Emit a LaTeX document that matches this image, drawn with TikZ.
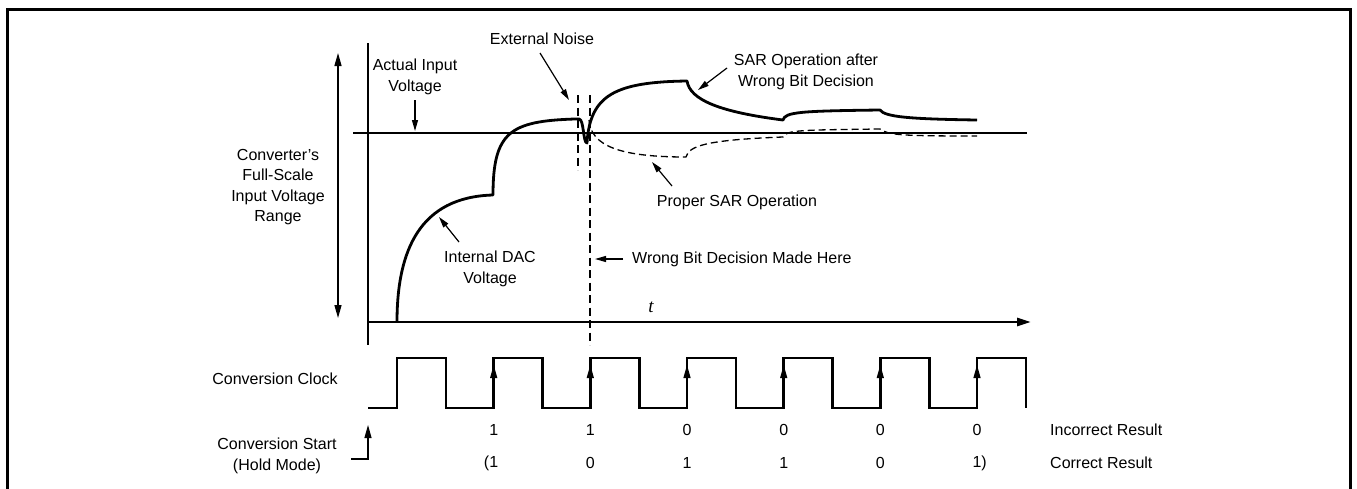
\documentclass[tikz,border=0pt]{standalone}
\usepackage{fontspec}
\setmainfont{Liberation Sans}
\newfontfamily\tfont{Liberation Serif}
\usetikzlibrary{arrows.meta}
\begin{document}
\begin{tikzpicture}[x=1pt,y=-1pt,
  lbl/.style={font=\fontsize{16}{20.5}\selectfont, inner sep=0pt, align=center},
  fine/.style={line width=1.3pt},
  heavy/.style={line width=2.8pt},
  framestyle/.style={line width=3pt},
  ptr/.style={line width=1.2pt, -{Triangle[length=11pt,width=6pt]}},
  edgeptr/.style={line width=1.2pt, -{Triangle[length=13pt,width=7pt]}},
  dsh/.style={line width=1.3pt, dash pattern=on 7pt off 4pt},
  vdsh/.style={line width=1.3pt, dash pattern=on 8pt off 4.5pt},
  digit/.style={font=\fontsize{16}{20.5}\selectfont, inner sep=0pt}]
\useasboundingbox (0,0) rectangle (1357,488);
% frame (bottom edge lies below the picture)
\coordinate (f0) at (7,492); \coordinate (f1) at (7,9);
\coordinate (f2) at (1350,9); \coordinate (f3) at (1350,492);
\draw[framestyle] (f0) -- (f1) -- (f2) -- (f3);
% full-scale range arrow
\coordinate (rt) at (338,53); \coordinate (rb) at (338,318);
\draw[fine, {Triangle[length=13pt,width=7pt]}-{Triangle[length=13pt,width=7pt]}] (rt) -- (rb);
% axes
\coordinate (yt) at (368,43); \coordinate (yb) at (368,345);
\draw[fine] (yt) -- (yb);
\coordinate (in0) at (353,133); \coordinate (in1) at (1027,133);
\draw[fine] (in0) -- (in1);
\coordinate (t0) at (368,322); \coordinate (t1) at (1031,322);
\draw[heavy, -{Triangle[length=14pt,width=8pt]}] (t0) -- (t1);
% noise marker lines
\coordinate (n1a) at (578,95); \coordinate (n1b) at (578,170);
\coordinate (n2a) at (590,95); \coordinate (n2b) at (590,345);
\draw[vdsh] (n1a) -- (n1b);
\draw[vdsh] (n2a) -- (n2b);
% proper SAR operation (dashed)
\draw[dsh]
  (589,120) .. controls (591,146) and (620,157) .. (686,157)
  .. controls (689,146) and (705,140) .. (783,137)
  .. controls (786,130) and (800,130) .. (880,129)
  .. controls (888,135) and (900,136) .. (977,136);
% internal DAC voltage (solid)
\draw[heavy, line join=round]
  (397,322) .. controls (397,250) and (420,197) .. (493,195)
  .. controls (493,132) and (510,121) .. (575,119) -- (579,119)
  .. controls (584,119) and (583,143) .. (587,143)
  .. controls (590,95) and (615,82) .. (687,81)
  .. controls (690,100) and (720,112) .. (783,120)
  .. controls (785,112) and (800,111) .. (880,110)
  .. controls (885,117) and (910,119) .. (977,120);
% conversion clock
\draw[heavy, line join=miter]
  (368,408) -- (397,408) -- (397,358) -- (446,358) -- (446,408)
  -- (493.7,408) -- (493.7,358) -- (542.7,358) -- (542.7,408)
  -- (590.3,408) -- (590.3,358) -- (639.3,358) -- (639.3,408)
  -- (687,408) -- (687,358) -- (736,358) -- (736,408)
  -- (783.7,408) -- (783.7,358) -- (832.7,358) -- (832.7,408)
  -- (880.3,408) -- (880.3,358) -- (929.3,358) -- (929.3,408)
  -- (977,408) -- (977,358) -- (1026,358) -- (1026,408);
\foreach \x [count=\i] in {493.7,590.3,687,783.7,880.3,977}{
  \coordinate (ea\i) at (\x,400); \coordinate (eb\i) at (\x,365);
  \draw[edgeptr] (ea\i) -- (eb\i);
}
% conversion start hook
\coordinate (hk0) at (351,459); \coordinate (hk1) at (368,459); \coordinate (hk2) at (368,425);
\draw[edgeptr] (hk0) -- (hk1) -- (hk2);
% labels
\node[lbl] (fsr) at (278,187) {Converter's\\Full-Scale\\Input Voltage\\Range};
\node[lbl] (ain) at (415,77) {Actual Input\\Voltage};
\node[lbl] (noise) at (542,39) {External Noise};
\node[lbl] (sar) at (806,72) {SAR Operation after\\Wrong Bit Decision};
\node[lbl] (prop) at (737,202) {Proper SAR Operation};
\node[lbl] (dac) at (490,269) {Internal DAC\\Voltage};
\node[lbl, anchor=west] (wbd) at (632,259) {Wrong Bit Decision Made Here};
\node[font=\tfont\itshape\fontsize{19}{20}\selectfont, inner sep=0pt] (tl) at (651,307) {t};
\node[lbl] (clk) at (275,379) {Conversion Clock};
\node[lbl] (cs) at (277,456) {Conversion Start\\(Hold Mode)};
\node[lbl, anchor=west] (inc) at (1050,430) {Incorrect Result};
\node[lbl, anchor=west] (cor) at (1050,463) {Correct Result};
% result bits
\node[digit] (a1) at (493.7,430) {1};
\node[digit] (a2) at (590.3,430) {1};
\node[digit] (a3) at (687,430) {0};
\node[digit] (a4) at (783.7,430) {0};
\node[digit] (a5) at (880.3,430) {0};
\node[digit] (a6) at (977,430) {0};
\node[digit] (b1) at (493.7,463) {\llap{(}1};
\node[digit] (b2) at (590.3,463) {0};
\node[digit] (b3) at (687,463) {1};
\node[digit] (b4) at (783.7,463) {1};
\node[digit] (b5) at (880.3,463) {0};
\node[digit] (b6) at (977,463) {1\rlap{)}};
% pointers
\coordinate (pa0) at (415,100); \coordinate (pa1) at (415,131);
\draw[ptr] (pa0) -- (pa1);
\coordinate (pn0) at (540,53); \coordinate (pn1) at (569,100);
\draw[ptr] (pn0) -- (pn1);
\coordinate (ps0) at (727,68); \coordinate (ps1) at (698,90);
\draw[ptr] (ps0) -- (ps1);
\coordinate (pp0) at (672,186); \coordinate (pp1) at (652,162);
\draw[ptr] (pp0) -- (pp1);
\coordinate (pd0) at (459,242); \coordinate (pd1) at (439,217);
\draw[ptr] (pd0) -- (pd1);
\coordinate (pw0) at (623,259); \coordinate (pw1) at (595,259);
\draw[ptr] (pw0) -- (pw1);
\end{tikzpicture}
\end{document}
